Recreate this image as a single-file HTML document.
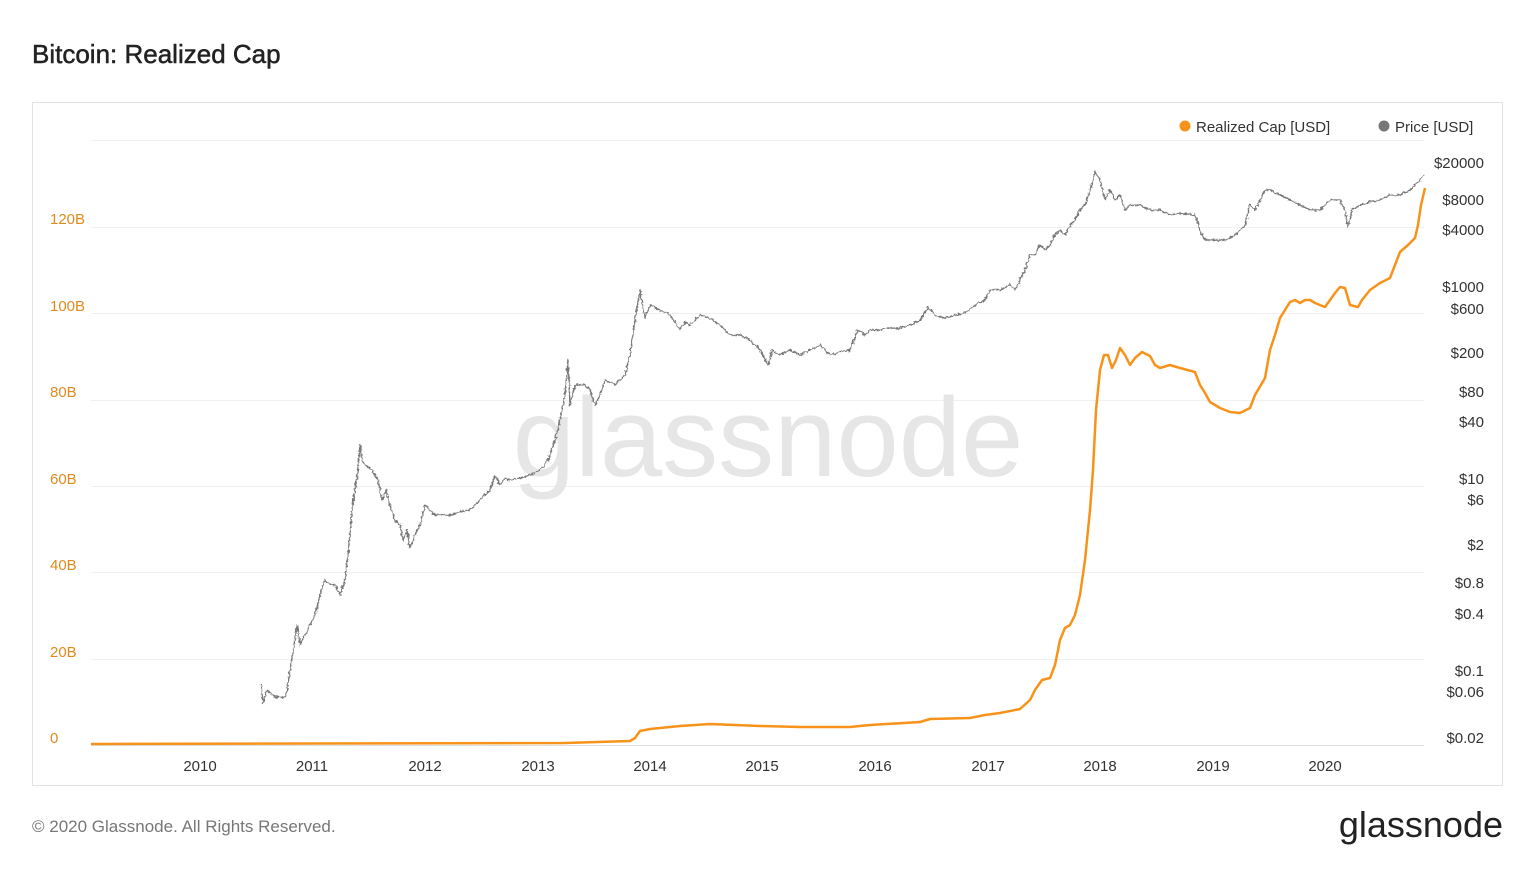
<!DOCTYPE html>
<html><head><meta charset="utf-8"><style>
html,body{margin:0;padding:0;background:#fff;}
body{width:1536px;height:864px;overflow:hidden;font-family:"Liberation Sans",sans-serif;}
</style></head><body>
<svg width="1536" height="864" viewBox="0 0 1536 864" xmlns="http://www.w3.org/2000/svg" font-family="Liberation Sans, sans-serif">
<defs>
<filter id="jit" x="-5%" y="-5%" width="110%" height="110%">
<feTurbulence type="fractalNoise" baseFrequency="0.35" numOctaves="2" seed="3" result="n"/>
<feDisplacementMap in="SourceGraphic" in2="n" scale="4" xChannelSelector="R" yChannelSelector="G"/>
</filter>
</defs>
<text x="32" y="63" font-size="26" fill="#222" stroke="#222" stroke-width="0.5">Bitcoin: Realized Cap</text>
<rect x="32.5" y="102.5" width="1470" height="683" fill="none" stroke="#e3e3e3"/>
<g stroke="#f0f0f0" stroke-width="1">
<line x1="91" x2="1424" y1="140.5" y2="140.5"/><line x1="91" x2="1424" y1="227.5" y2="227.5"/>
<line x1="91" x2="1424" y1="313.5" y2="313.5"/><line x1="91" x2="1424" y1="400.5" y2="400.5"/>
<line x1="91" x2="1424" y1="486.5" y2="486.5"/><line x1="91" x2="1424" y1="572.5" y2="572.5"/>
<line x1="91" x2="1424" y1="659.5" y2="659.5"/>
</g>
<line x1="91" x2="1424" y1="745.5" y2="745.5" stroke="#ddd"/>
<text x="768" y="476" font-size="112" fill="#e6e6e6" text-anchor="middle">glassnode</text>
<g font-size="15" fill="#e08a1e">
<text x="50" y="224">120B</text><text x="50" y="311">100B</text><text x="50" y="397">80B</text>
<text x="50" y="484">60B</text><text x="50" y="570">40B</text><text x="50" y="657">20B</text><text x="50" y="743">0</text>
</g>
<g font-size="15" fill="#333" text-anchor="end">
<text x="1484" y="168">$20000</text><text x="1484" y="205">$8000</text><text x="1484" y="235">$4000</text>
<text x="1484" y="292">$1000</text><text x="1484" y="314">$600</text><text x="1484" y="358">$200</text>
<text x="1484" y="397">$80</text><text x="1484" y="427">$40</text><text x="1484" y="484">$10</text>
<text x="1484" y="505">$6</text><text x="1484" y="550">$2</text><text x="1484" y="588">$0.8</text>
<text x="1484" y="619">$0.4</text><text x="1484" y="676">$0.1</text><text x="1484" y="697">$0.06</text>
<text x="1484" y="743">$0.02</text>
</g>
<g font-size="15" fill="#333" text-anchor="middle">
<text x="200" y="771">2010</text><text x="312" y="771">2011</text><text x="425" y="771">2012</text>
<text x="538" y="771">2013</text><text x="650" y="771">2014</text><text x="762" y="771">2015</text>
<text x="875" y="771">2016</text><text x="988" y="771">2017</text><text x="1100" y="771">2018</text>
<text x="1213" y="771">2019</text><text x="1325" y="771">2020</text>
</g>
<circle cx="1185" cy="126" r="5.5" fill="#f7931a"/><text x="1196" y="132" font-size="15" fill="#333">Realized Cap [USD]</text>
<circle cx="1384" cy="126" r="5.5" fill="#777"/><text x="1395" y="132" font-size="15" fill="#333">Price [USD]</text>
<polyline filter="url(#jit)" fill="none" stroke="#777" stroke-width="1.4" stroke-linejoin="round" points="261,685 263,703 267,690 275,697 286,697 290,670 295,640 297,625 300,645 305,635 310,625 315,615 320,595 325,580 328,583 335,585 340,595 345,580 348,555 352,510 355,490 358,470 360,445 362,460 365,465 372,470 378,480 382,500 386,490 390,505 395,520 400,525 403,540 407,530 410,548 415,535 420,525 425,505 430,510 435,515 440,515 450,515 460,512 470,510 480,500 490,490 495,475 500,485 505,478 510,480 520,478 530,475 540,470 548,460 555,440 560,420 565,395 568,360 570,405 575,385 580,385 585,385 590,390 595,405 600,395 605,380 615,385 625,375 630,355 635,320 640,290 645,318 650,305 660,310 670,315 680,330 685,322 690,325 700,315 710,318 720,325 730,335 740,335 750,340 760,350 768,365 772,350 780,355 790,350 800,355 810,350 820,345 830,355 840,352 850,350 858,330 865,335 870,330 880,330 890,328 900,328 910,325 920,320 928,307 935,315 945,318 955,315 965,313 975,305 985,300 990,290 1000,290 1010,285 1015,290 1020,280 1025,270 1030,255 1035,255 1040,245 1045,250 1050,245 1055,235 1060,230 1065,235 1070,225 1075,220 1080,210 1085,205 1090,190 1095,172 1100,180 1105,200 1110,190 1115,200 1120,195 1125,210 1130,205 1140,205 1150,210 1160,210 1170,215 1180,213 1195,215 1200,230 1205,240 1215,240 1225,240 1235,235 1245,225 1250,205 1255,210 1260,200 1265,190 1270,190 1280,195 1290,200 1300,205 1310,210 1320,210 1330,200 1340,200 1345,210 1348,227 1352,210 1360,205 1370,202 1380,200 1390,195 1400,195 1410,190 1420,180 1424,175"/>
<polyline fill="none" stroke="#f7931a" stroke-width="2.5" stroke-linejoin="round" points="91,744 565,743 630,741 635,738 640,731 650,729 680,726 710,724 760,726 800,727 850,727 870,725 920,722 930,719 970,718 985,715 1000,713 1020,709 1030,700 1035,690 1042,680 1050,678 1055,665 1060,640 1065,628 1070,625 1075,615 1080,595 1085,560 1090,510 1093,470 1096,410 1100,370 1104,355 1108,355 1112,368 1116,360 1120,348 1125,355 1130,365 1135,358 1142,352 1150,356 1155,365 1160,368 1170,365 1180,368 1195,372 1200,385 1205,393 1210,402 1220,408 1230,412 1240,413 1250,408 1255,395 1265,378 1270,350 1275,335 1280,318 1285,310 1290,302 1295,300 1300,303 1305,300 1310,300 1315,303 1325,307 1330,300 1335,293 1340,287 1345,288 1350,305 1358,307 1362,300 1370,290 1380,283 1390,278 1395,265 1400,252 1408,245 1415,238 1418,225 1421,205 1425,188"/>
<text x="32" y="832" font-size="17" fill="#777">© 2020 Glassnode. All Rights Reserved.</text>
<text x="1503" y="837" font-size="36" fill="#222" text-anchor="end">glassnode</text>
</svg>
</body></html>
